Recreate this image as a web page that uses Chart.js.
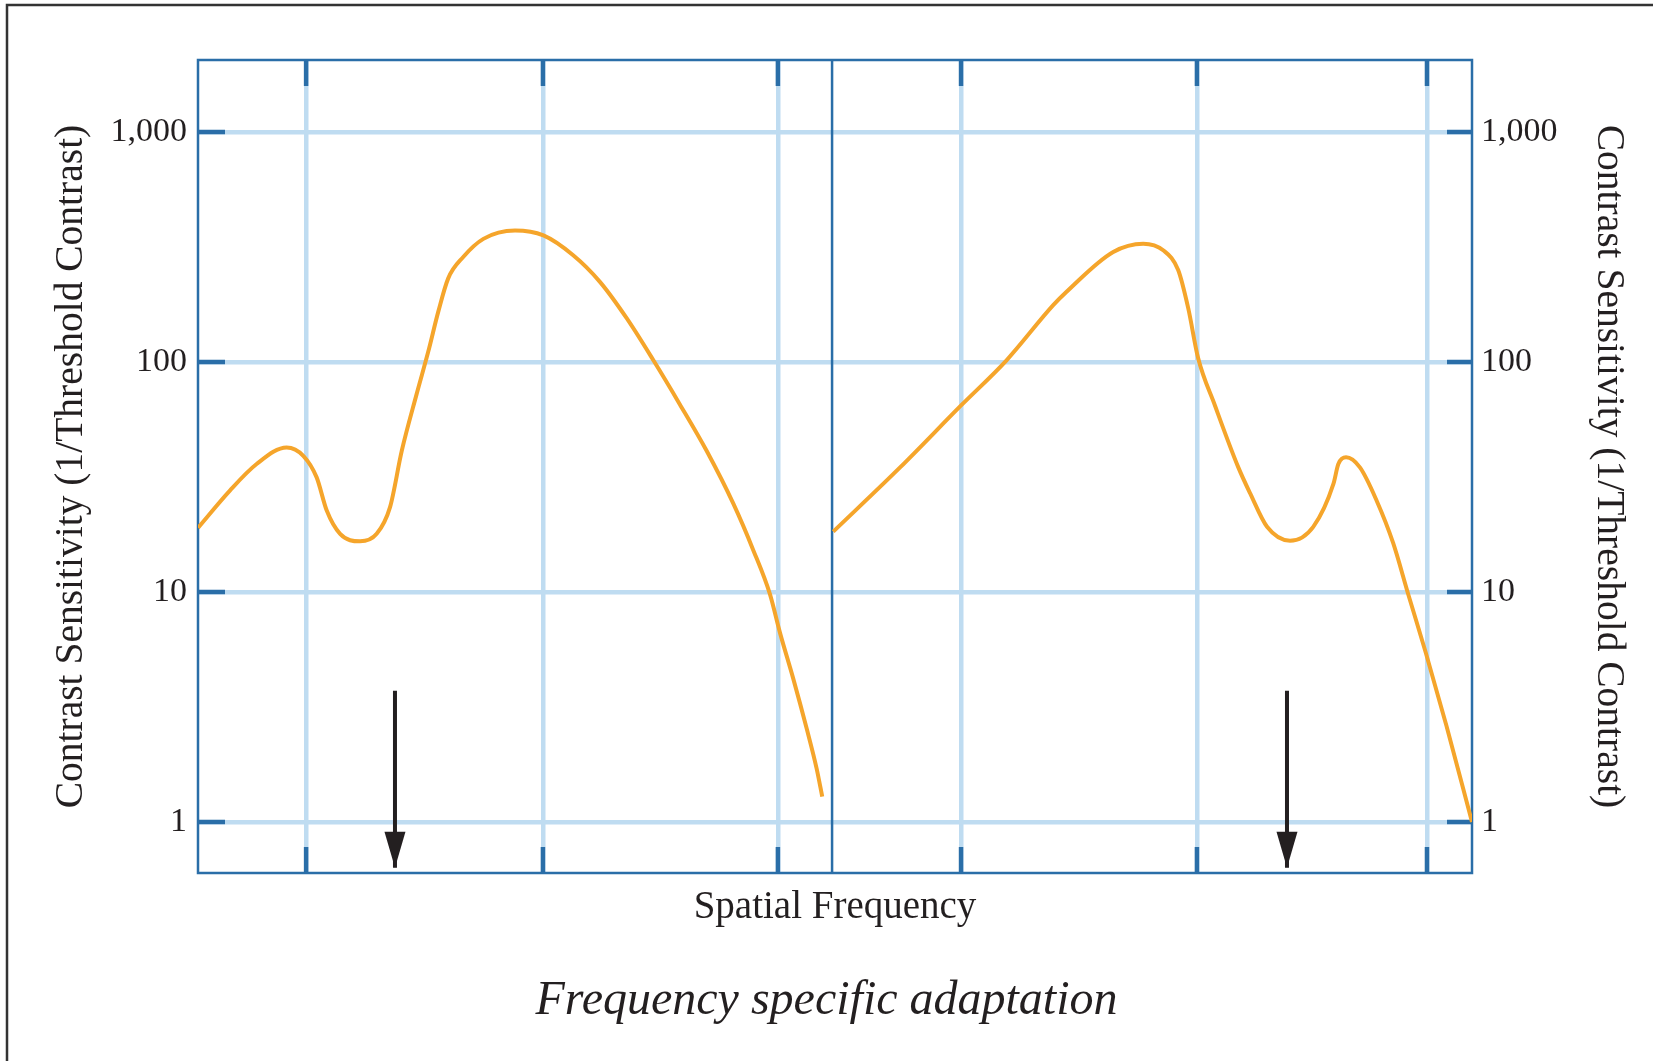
<!DOCTYPE html>
<html>
<head>
    <meta charset="UTF-8">
    <title>Frequency specific adaptation</title>
    <script src="https://cdn.jsdelivr.net/npm/chart.js"></script>
    <style>
        body {
          margin: 0;
          padding: 0;
          background-color: #ffffff;
        }
        canvas {
          display: block;
        }
    </style>
</head>
<body>
<canvas id="csfChart" width="1653" height="1061"></canvas>

<script>
    // x = position along spatial frequency (one unit ~ one decade), y = contrast sensitivity
    const leftX = [0, 0.136, 0.250, 0.378, 0.449, 0.506, 0.549, 0.606, 0.691, 0.762, 0.819, 0.869, 0.932, 0.982,
                   1.025, 1.067, 1.131, 1.217, 1.352, 1.473, 1.600, 1.714, 1.828, 1.942, 2.055, 2.169, 2.283,
                   2.368, 2.439, 2.482, 2.539, 2.596, 2.638, 2.662];
    const leftY = [19.0, 27.6, 36, 42.5, 39.1, 31.5, 22.6, 17.9, 16.6, 17.9, 23.4, 41.1, 72.3, 111,
                   166, 231, 286, 343, 373, 355, 291, 223, 155, 101.7, 65.4, 41.1, 24.2,
                   15.2, 9.78, 6.64, 4.18, 2.54, 1.71, 1.29];

    const rightX = [2.709, 2.994, 3.252, 3.448, 3.648, 3.704, 3.903, 4.031, 4.116, 4.180, 4.223, 4.265, 4.336, 4.436,
                    4.488, 4.559, 4.657, 4.756, 4.842, 4.863, 4.896, 4.955, 5.026, 5.097, 5.161, 5.236, 5.324, 5.433];
    const rightY = [18.3, 34.8, 64.4, 101.7, 177, 202, 301, 327, 306, 251, 171, 104, 65, 34.9,
                    26.7, 19.2, 16.7, 19.2, 29.5, 36, 38.5, 34.8, 25.0, 16.3, 9.78, 5.44, 2.62, 1.0];

    // adapting frequencies (arrows)
    const arrowX = [0.840, 4.644];
    const arrowTop = 3.72;

    const yTicks = [1, 10, 100, 1000];
    const gridX = [0.461, 1.471, 2.473, 3.254, 4.260, 5.241];
    const panelSplit = 2.704;
    const X_MAX = 5.433;
    const Y_MIN = 0.633;
    const Y_MAX = 2056;

    const lightBlue = "#bfdcf1";
    const darkBlue = "#2a6ea8";
    const orange = "#f5a52b";
    const ink = "#231f20";
    const serif = "'Liberation Serif', 'Times New Roman', serif";

    const pts = (xs, ys) => xs.map((x, i) => ({x: x, y: ys[i]}));

    const decorations = {
      id: "decorations",
      beforeDraw(chart) {
        const c = chart.ctx;
        c.save();
        c.strokeStyle = "#333333";
        c.lineWidth = 2.5;
        c.beginPath();
        c.moveTo(7, chart.height + 10);
        c.lineTo(7, 5);
        c.lineTo(chart.width + 10, 5);
        c.stroke();
        c.restore();
      },
      beforeDatasetsDraw(chart) {
        const {ctx, chartArea: a, scales} = chart;
        const seg = (x1, y1, x2, y2) => { ctx.beginPath(); ctx.moveTo(x1, y1); ctx.lineTo(x2, y2); ctx.stroke(); };
        ctx.save();
        ctx.strokeStyle = darkBlue;
        ctx.lineWidth = 4.5;
        gridX.forEach(v => {
          const px = scales.x.getPixelForValue(v);
          seg(px, a.top, px, a.top + 26);
          seg(px, a.bottom - 26, px, a.bottom);
        });
        yTicks.forEach(v => {
          const py = scales.y.getPixelForValue(v);
          seg(a.left, py, a.left + 27, py);
          seg(a.right - 25, py, a.right, py);
        });
        ctx.lineWidth = 2.5;
        const sx = scales.x.getPixelForValue(panelSplit);
        seg(sx, a.top, sx, a.bottom);
        ctx.strokeRect(a.left, a.top, a.right - a.left, a.bottom - a.top);
        ctx.restore();
      },
      afterDatasetsDraw(chart) {
        const {ctx} = chart;
        ctx.save();
        ctx.fillStyle = ink;
        chart.data.datasets.forEach((ds, i) => {
          if (!ds.arrow) return;
          const last = chart.getDatasetMeta(i).data[1];
          ctx.beginPath();
          ctx.moveTo(last.x, last.y);
          ctx.lineTo(last.x - 10.5, last.y - 36);
          ctx.lineTo(last.x + 10.5, last.y - 36);
          ctx.closePath();
          ctx.fill();
        });
        ctx.restore();
      }
    };

    const arrowSets = arrowX.map(x => ({
      arrow: true,
      data: [{x: x, y: arrowTop}, {x: x, y: Y_MIN}],
      borderColor: ink,
      borderWidth: 4,
      pointRadius: 0,
      clip: false
    }));

    const tickFont = {family: serif, size: 34};
    const axisTitleFont = {family: serif, size: 39.5, lineHeight: 1.2};

    new Chart(document.getElementById("csfChart").getContext("2d"), {
      type: "line",
      data: {
        datasets: [
          {
            data: pts(leftX, leftY),
            borderColor: orange,
            borderWidth: 4,
            pointRadius: 0,
            cubicInterpolationMode: "monotone"
          },
          {
            data: pts(rightX, rightY),
            borderColor: orange,
            borderWidth: 4,
            pointRadius: 0,
            cubicInterpolationMode: "monotone"
          }
        ].concat(arrowSets)
      },
      options: {
        responsive: false,
        animation: false,
        layout: {padding: {top: 60, left: 0, right: 0, bottom: 30.4}},
        plugins: {
          legend: {display: false},
          tooltip: {enabled: false},
          title: {
            display: true,
            position: "bottom",
            text: "Frequency specific adaptation",
            color: ink,
            font: {family: serif, size: 48, style: "italic", weight: "normal", lineHeight: 1.2},
            padding: 0
          }
        },
        scales: {
          x: {
            type: "linear",
            min: 0,
            max: X_MAX,
            afterBuildTicks: s => { s.ticks = gridX.map(v => ({value: v})); },
            afterFit: s => { s.height = 100; },
            ticks: {display: false},
            grid: {color: lightBlue, lineWidth: 4.5, drawTicks: false},
            border: {display: false},
            title: {
              display: true,
              text: "Spatial Frequency",
              color: ink,
              font: {family: serif, size: 39, lineHeight: 1.2},
              padding: {top: 0, bottom: 42}
            }
          },
          y: {
            type: "logarithmic",
            position: "left",
            min: Y_MIN,
            max: Y_MAX,
            afterBuildTicks: s => { s.ticks = yTicks.map(v => ({value: v})); },
            afterFit: s => { s.width = 198; },
            ticks: {
              color: ink,
              font: tickFont,
              padding: 11,
              callback: v => Number(v).toLocaleString("en-US")
            },
            grid: {color: lightBlue, lineWidth: 4.5, drawTicks: false},
            border: {display: false},
            title: {
              display: true,
              text: "Contrast Sensitivity (1/Threshold Contrast)",
              color: ink,
              font: axisTitleFont,
              padding: {top: 48, bottom: 0}
            }
          },
          y2: {
            type: "logarithmic",
            position: "right",
            min: Y_MIN,
            max: Y_MAX,
            afterBuildTicks: s => { s.ticks = yTicks.map(v => ({value: v})); },
            afterFit: s => { s.width = 181; },
            ticks: {
              color: ink,
              font: tickFont,
              padding: 9,
              callback: v => Number(v).toLocaleString("en-US")
            },
            grid: {display: false, drawTicks: false},
            border: {display: false},
            title: {
              display: true,
              text: "Contrast Sensitivity (1/Threshold Contrast)",
              color: ink,
              font: axisTitleFont,
              padding: {top: 21, bottom: 0}
            }
          }
        }
      },
      plugins: [decorations]
    });
</script>
</body>
</html>
